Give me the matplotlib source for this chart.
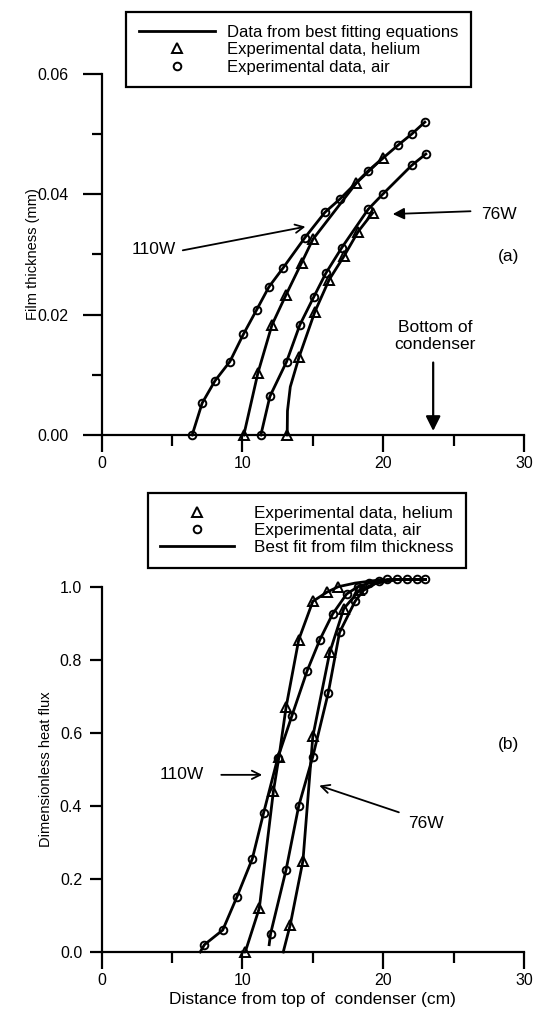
import matplotlib
matplotlib.use('Agg')
import matplotlib.pyplot as plt
from matplotlib.lines import Line2D
from matplotlib.ticker import MultipleLocator

plt.rcParams['font.family'] = ['Liberation Sans', 'DejaVu Sans']
plt.rcParams['font.size'] = 11

# ---- (a) film thickness (mm) vs distance (cm)
a_air110_x = [6.43, 7.14, 8.05, 9.11, 10.06, 11.01, 11.88, 12.90, 14.44, 15.86, 16.92, 18.93, 21.07, 22.02, 22.96]
a_air110_y = [0.0, 0.0053, 0.0090, 0.0122, 0.0167, 0.0208, 0.0246, 0.0278, 0.0328, 0.0370, 0.0392, 0.0439, 0.0482, 0.0500, 0.0520]
a_he110_x = [10.1, 11.1, 12.1, 13.1, 14.2, 15.0, 18.1, 20.0]
a_he110_y = [0.0, 0.0103, 0.0183, 0.0233, 0.0286, 0.0325, 0.0419, 0.0461]
a_air76_x = [11.31, 11.95, 13.14, 14.08, 15.08, 15.93, 17.05, 18.93, 19.96, 22.02, 23.03]
a_air76_y = [0.0, 0.0064, 0.0122, 0.0183, 0.0230, 0.0269, 0.0311, 0.0375, 0.0400, 0.0448, 0.0467]
a_he76_x = [13.18, 14.03, 15.15, 16.16, 17.21, 18.22, 19.25]
a_he76_y = [0.0, 0.0130, 0.0205, 0.0258, 0.0297, 0.0338, 0.0369]
# fitted curve for 76W helium
a_fit_he76_x = [13.18, 13.2, 13.4, 14.03, 15.15, 16.16, 17.21, 18.22, 19.25]
a_fit_he76_y = [0.0, 0.004, 0.008, 0.0130, 0.0205, 0.0258, 0.0297, 0.0338, 0.0369]

# ---- (b) dimensionless heat flux vs distance (cm)
b_air110_x = [7.3, 8.6, 9.6, 10.7, 11.5, 12.5, 13.5, 14.6, 15.5, 16.4, 17.4, 18.2, 19.0, 19.7, 20.3, 21.0, 21.7, 22.4, 23.0]
b_air110_y = [0.02, 0.06, 0.15, 0.255, 0.38, 0.53, 0.645, 0.77, 0.855, 0.925, 0.98, 1.0, 1.01, 1.015, 1.02, 1.02, 1.02, 1.02, 1.02]
b_he110_x = [10.2, 11.2, 12.2, 12.6, 13.1, 14.0, 15.0, 16.0, 16.8]
b_he110_y = [0.0, 0.12, 0.44, 0.535, 0.67, 0.855, 0.96, 0.985, 1.0]
b_air76_x = [12.0, 13.1, 14.0, 15.0, 16.1, 16.9, 18.0, 18.6]
b_air76_y = [0.05, 0.225, 0.40, 0.535, 0.71, 0.875, 0.96, 0.99]
b_he76_x = [13.4, 14.3, 15.0, 16.2, 17.2, 18.3]
b_he76_y = [0.075, 0.25, 0.59, 0.82, 0.94, 0.99]

b_fit_air110_x = [7.0] + b_air110_x
b_fit_air110_y = [0.0] + b_air110_y
b_fit_he110_x = [10.0, 10.2, 11.2, 12.2, 12.6, 13.1, 14.0, 15.0, 16.0, 16.8, 18.0, 20.0]
b_fit_he110_y = [0.0, 0.0, 0.12, 0.44, 0.535, 0.67, 0.855, 0.96, 0.985, 1.0, 1.01, 1.02]
b_fit_air76_x = [11.9, 12.0, 13.1, 14.0, 15.0, 16.1, 16.9, 18.0, 18.6, 19.5, 21.0, 23.0]
b_fit_air76_y = [0.02, 0.05, 0.225, 0.40, 0.535, 0.71, 0.875, 0.96, 0.99, 1.01, 1.02, 1.02]
b_fit_he76_x = [12.9, 13.4, 14.3, 15.0, 16.2, 17.2, 18.3, 19.5, 21.0, 23.0]
b_fit_he76_y = [0.0, 0.075, 0.25, 0.59, 0.82, 0.94, 0.99, 1.01, 1.02, 1.02]

LW = 2.0
TXT = 12.5
circ = dict(marker='o', ms=5.5, mfc='none', mec='black', mew=1.4, ls='none', zorder=4, clip_on=False)
tri = dict(marker='^', ms=7.5, mfc='none', mec='black', mew=1.4, ls='none', zorder=4, clip_on=False)
fitline = dict(color='black', lw=LW, clip_on=False)

fig = plt.figure(figsize=(5.35, 10.16), dpi=100)
ax1 = fig.add_axes([0.190, 0.5719, 0.7894, 0.3553])
ax2 = fig.add_axes([0.190, 0.0630, 0.7894, 0.3595])


def style_axes(ax, ylen, ypad):
    for s in ['top', 'right']:
        ax.spines[s].set_visible(False)
    for s in ['left', 'bottom']:
        ax.spines[s].set_linewidth(1.6)
    ax.set_xlim(0, 30)
    ax.xaxis.set_major_locator(MultipleLocator(10))
    ax.xaxis.set_minor_locator(MultipleLocator(5))
    ax.tick_params(axis='x', which='major', direction='out', length=12, width=1.6, pad=3, labelsize=11.5)
    ax.tick_params(axis='x', which='minor', direction='out', length=8, width=1.6)
    ax.tick_params(axis='y', which='major', direction='out', length=ylen, width=1.6, pad=ypad, labelsize=11.5)
    ax.tick_params(axis='y', which='minor', direction='out', length=7, width=1.6)


# ---- panel (a)
ax1.plot(a_air110_x, a_air110_y, **fitline)
ax1.plot(a_he110_x, a_he110_y, **fitline)
ax1.plot(a_air76_x, a_air76_y, **fitline)
ax1.plot(a_fit_he76_x, a_fit_he76_y, **fitline)
ax1.plot(a_air110_x, a_air110_y, **circ)
ax1.plot(a_air76_x, a_air76_y, **circ)
ax1.plot(a_he110_x, a_he110_y, **tri)
ax1.plot(a_he76_x, a_he76_y, **tri)

style_axes(ax1, 14, 10)
ax1.set_ylim(0, 0.06)
ax1.yaxis.set_major_locator(MultipleLocator(0.02))
ax1.yaxis.set_minor_locator(MultipleLocator(0.01))
ax1.yaxis.set_major_formatter(lambda v, p: f'{v:.2f}')
ax1.set_ylabel('Film thickness (mm)', fontsize=10.5, labelpad=-2)

ax1.text(3.68, 0.0308, '110W', fontsize=TXT, ha='center', va='center')
ax1.annotate('', xy=(14.67, 0.0347), xytext=(5.57, 0.0306),
             arrowprops=dict(arrowstyle='->', lw=1.3, color='black', mutation_scale=15))
ax1.text(28.25, 0.0367, '76W', fontsize=TXT, ha='center', va='center')
ax1.annotate('', xy=(20.48, 0.0367), xytext=(26.4, 0.0372),
             arrowprops=dict(arrowstyle='-|>', lw=1.3, color='black', mutation_scale=17))
ax1.text(28.9, 0.0297, '(a)', fontsize=TXT, ha='center', va='center')
ax1.text(23.67, 0.0165, 'Bottom of\ncondenser', fontsize=TXT, ha='center', va='center', linespacing=1.15)
ax1.annotate('', xy=(23.55, 0.0002), xytext=(23.55, 0.0125),
             arrowprops=dict(arrowstyle='-|>', lw=1.6, color='black', mutation_scale=22))

# ---- panel (b)
ax2.plot(b_fit_air110_x, b_fit_air110_y, **fitline)
ax2.plot(b_fit_he110_x, b_fit_he110_y, **fitline)
ax2.plot(b_fit_air76_x, b_fit_air76_y, **fitline)
ax2.plot(b_fit_he76_x, b_fit_he76_y, **fitline)
ax2.plot(b_air110_x, b_air110_y, **circ)
ax2.plot(b_air76_x, b_air76_y, **circ)
ax2.plot(b_he110_x, b_he110_y, **tri)
ax2.plot(b_he76_x, b_he76_y, **tri)

style_axes(ax2, 9, 5)
ax2.set_ylim(0, 1.0)
ax2.yaxis.set_major_locator(MultipleLocator(0.2))
ax2.yaxis.set_minor_locator(MultipleLocator(0.2))
ax2.yaxis.set_major_formatter(lambda v, p: f'{v:.1f}')
ax2.set_ylabel('Dimensionless heat flux', fontsize=10.5, labelpad=5)
ax2.set_xlabel('Distance from top of  condenser (cm)', fontsize=TXT, labelpad=3)

ax2.text(5.67, 0.485, '110W', fontsize=TXT, ha='center', va='center')
ax2.annotate('', xy=(11.6, 0.485), xytext=(8.3, 0.485),
             arrowprops=dict(arrowstyle='->', lw=1.3, color='black', mutation_scale=15))
ax2.text(23.03, 0.353, '76W', fontsize=TXT, ha='center', va='center')
ax2.annotate('', xy=(15.27, 0.458), xytext=(21.3, 0.38),
             arrowprops=dict(arrowstyle='->', lw=1.3, color='black', mutation_scale=15))
ax2.text(28.9, 0.567, '(b)', fontsize=TXT, ha='center', va='center')

# ---- legends
h_line = Line2D([], [], color='black', lw=LW)
h_tri = Line2D([], [], **tri)
h_circ = Line2D([], [], **circ)

leg1 = fig.legend([h_line, h_tri, h_circ],
                  ['Data from best fitting equations', 'Experimental data, helium', 'Experimental data, air'],
                  loc='upper left', bbox_to_anchor=(0.236, 0.988), fontsize=12,
                  frameon=True, fancybox=False, edgecolor='black', framealpha=1,
                  handlelength=4.6, handletextpad=0.7, labelspacing=0.15, borderpad=0.75,
                  borderaxespad=0)
leg1.get_frame().set_linewidth(1.6)

leg2 = fig.legend([h_tri, h_circ, h_line],
                  ['Experimental data, helium', 'Experimental data, air', 'Best fit from film thickness'],
                  loc='upper left', bbox_to_anchor=(0.276, 0.5148), fontsize=12.3,
                  frameon=True, fancybox=False, edgecolor='black', framealpha=1,
                  handlelength=4.3, handletextpad=1.15, labelspacing=0.12, borderpad=0.75,
                  borderaxespad=0)
leg2.get_frame().set_linewidth(1.6)

fig.savefig('out.png', dpi=100)
